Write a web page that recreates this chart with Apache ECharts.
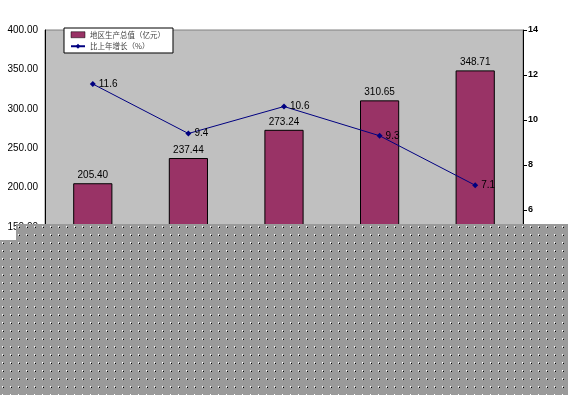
<!DOCTYPE html>
<html>
<head>
<meta charset="utf-8">
<script src="https://cdn.jsdelivr.net/npm/echarts@6/dist/echarts.min.js"></script>
<style>html,body{margin:0;padding:0;background:#fff;}#c{width:568px;height:395px;}</style>
</head>
<body>
<div id="c"></div>
<script>
var categories = ['2006年', '2007年', '2008年', '2009年', '2010年'];
var gdpValues = [205.40, 237.44, 273.24, 310.65, 348.71];
var growthValues = [11.6, 9.4, 10.6, 9.3, 7.1];
var seriesNames = ['地区生产总值（亿元）', '比上年增长（%）'];

var tile = document.createElement('canvas');
tile.width = 8; tile.height = 8;
var tc = tile.getContext('2d');
tc.fillStyle = '#9a9a9a'; tc.fillRect(0, 0, 8, 8);
tc.fillStyle = '#ffffff'; tc.fillRect(2, 2, 1, 1);
tc.fillStyle = '#000000'; tc.fillRect(3, 3, 1, 1);
tc.fillStyle = '#cfcfcf'; tc.fillRect(2, 3, 1, 1);

var chart = echarts.init(document.getElementById('c'), null, {renderer: 'canvas'});
var font = 'Liberation Sans';
chart.setOption({
  animation: false,
  backgroundColor: '#ffffff',
  textStyle: {fontFamily: font},
  grid: {left: 45, right: 45, top: 30, bottom: 50, show: true, backgroundColor: '#c0c0c0', borderColor: '#808080', borderWidth: 1},
  legend: {
    left: 64, top: 28, orient: 'vertical', itemGap: 4, padding: [3, 8, 3, 6],
    backgroundColor: '#ffffff', borderColor: '#000000', borderWidth: 1, borderRadius: 0,
    itemWidth: 14, itemHeight: 6,
    textStyle: {fontSize: 7.5, color: '#444444', fontFamily: 'Noto Sans CJK SC'},
    data: [
      {name: seriesNames[0], icon: 'rect', itemStyle: {borderColor: '#000', borderWidth: 0.5}},
      {name: seriesNames[1]}
    ]
  },
  xAxis: {
    type: 'category', data: categories,
    axisLine: {lineStyle: {color: '#000'}}, axisTick: {show: false},
    axisLabel: {color: '#000', fontSize: 10}
  },
  yAxis: [
    {type: 'value', min: 0, max: 400, interval: 50, position: 'left',
     axisLine: {show: true, lineStyle: {color: '#000'}}, axisTick: {show: false}, splitLine: {show: false},
     axisLabel: {formatter: function(v){return v.toFixed(2);}, color: '#000', fontSize: 10, margin: 7}},
    {type: 'value', min: 0, max: 14, interval: 2, position: 'right',
     axisLine: {show: true, lineStyle: {color: '#000'}}, axisTick: {show: true, length: 4, lineStyle: {color: '#000'}}, splitLine: {show: false},
     axisLabel: {color: '#000', fontSize: 9, fontWeight: 'bold', margin: 5}}
  ],
  series: [
    {name: seriesNames[0], type: 'bar', data: gdpValues, barWidth: '41%', yAxisIndex: 0,
     itemStyle: {color: '#993366', borderColor: '#000', borderWidth: 1},
     label: {show: true, position: 'top', color: '#000', fontSize: 10, distance: 3,
       formatter: function(p){return p.value.toFixed(2);}}},
    {name: seriesNames[1], type: 'line', data: growthValues, yAxisIndex: 1,
     lineStyle: {color: '#000080', width: 1}, itemStyle: {color: '#000080'},
     symbol: 'diamond', symbolSize: 6,
     label: {show: true, position: 'right', color: '#000', fontSize: 10, distance: 3}}
  ],
  graphic: [
    {type: 'rect', z: 100, shape: {x: 16, y: 224, width: 552, height: 171}, style: {fill: {image: tile, repeat: 'repeat'}}},
    {type: 'rect', z: 100, shape: {x: 0, y: 240, width: 17, height: 155}, style: {fill: {image: tile, repeat: 'repeat'}}}
  ]
});
</script>
</body>
</html>
